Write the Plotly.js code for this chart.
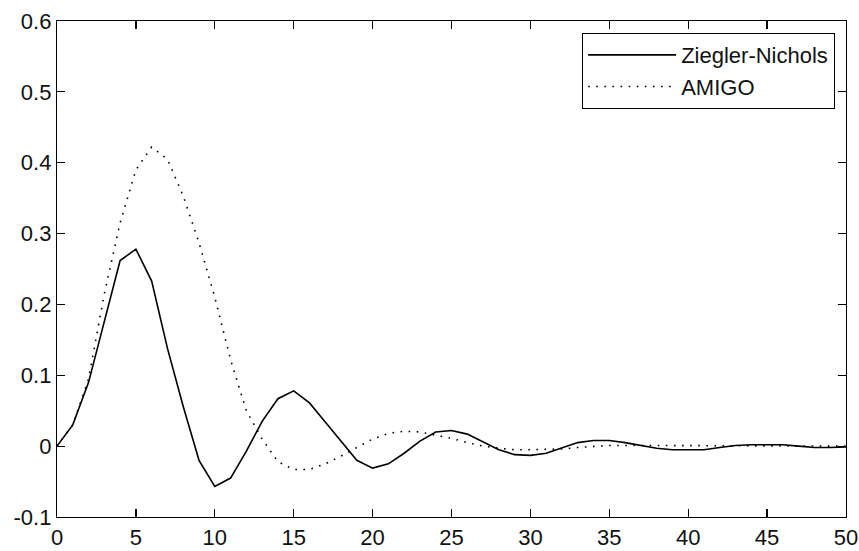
<!DOCTYPE html>
<html>
<head>
<meta charset="utf-8">
<script src="https://cdn.plot.ly/plotly-3.0.1.min.js"></script>
<style>html,body{margin:0;padding:0;background:#fff;}#chart{width:859px;height:551px;}</style>
</head>
<body>
<div id="chart"></div>
<script>
const time = [0,1,2,3,4,5,6,7,8,9,10,11,12,13,14,15,16,17,18,19,20,21,22,23,24,25,26,27,28,29,30,31,32,33,34,35,36,37,38,39,40,41,42,43,44,45,46,47,48,49,50];
const zieglerNichols = [0,0.03,0.09,0.175,0.262,0.278,0.233,0.138,0.056,-0.02,-0.057,-0.045,-0.007,0.035,0.067,0.078,0.061,0.034,0.007,-0.02,-0.031,-0.025,-0.01,0.007,0.02,0.022,0.017,0.006,-0.005,-0.012,-0.013,-0.01,-0.002,0.005,0.008,0.008,0.005,0.001,-0.003,-0.005,-0.005,-0.005,-0.002,0.001,0.002,0.002,0.002,0,-0.002,-0.002,-0.001];
const amigo = [0,0.03,0.095,0.215,0.315,0.39,0.422,0.405,0.353,0.287,0.21,0.122,0.05,0.01,-0.022,-0.033,-0.033,-0.025,-0.014,-0.002,0.01,0.018,0.021,0.02,0.016,0.011,0.005,0,-0.003,-0.005,-0.005,-0.005,-0.004,-0.002,0,0.001,0.001,0.001,0,0,0,0,0,0,0,0,0,0,0,0,0];
const seriesNames = ["Ziegler-Nichols","AMIGO"];
const xTicks = [0,5,10,15,20,25,30,35,40,45,50];
const yTicks = [-0.1,0,0.1,0.2,0.3,0.4,0.5,0.6];

const font = {family: "Liberation Sans, Arial, sans-serif", size: 22, color: "#111"};
const traces = [
  {x: time, y: zieglerNichols, name: seriesNames[0], mode: "lines", line: {color: "#000", width: 1.6}},
  {x: time, y: amigo, name: seriesNames[1], mode: "lines", line: {color: "#000", width: 1.6, dash: "1.6px,6.5px"}}
];
const axisCommon = {
  showgrid: false, zeroline: false, showline: true, linecolor: "#000", linewidth: 1.2,
  mirror: "ticks", ticks: "inside", ticklen: 8, tickwidth: 1.2, tickcolor: "#000",
  tickfont: font
};
const layout = {
  width: 859, height: 551,
  margin: {l: 57, r: 13, t: 21, b: 34},
  paper_bgcolor: "#fff", plot_bgcolor: "#fff",
  font: font,
  xaxis: Object.assign({}, axisCommon, {range: [0, 50], tickvals: xTicks, ticktext: xTicks.map(String)}),
  yaxis: Object.assign({}, axisCommon, {range: [-0.1, 0.6], tickvals: yTicks, ticktext: yTicks.map(v => String(Math.round(v*10)/10))}),
  showlegend: true,
  legend: {x: 0.986, y: 0.976, xanchor: "right", yanchor: "top", bgcolor: "#fff", bordercolor: "#000", borderwidth: 1.2,
           font: font, itemwidth: 88, tracegroupgap: 0}
};
Plotly.newPlot("chart", traces, layout, {displayModeBar: false, staticPlot: true});
</script>
</body>
</html>
